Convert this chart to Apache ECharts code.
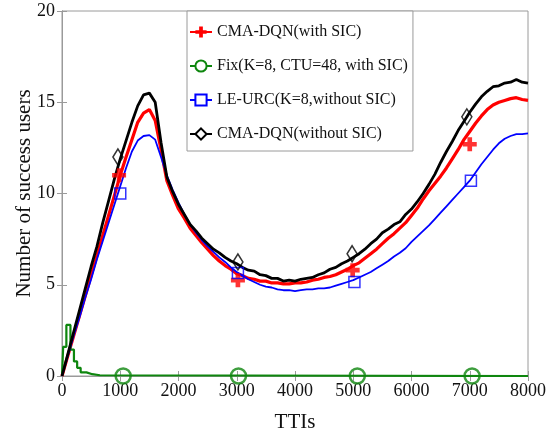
<!DOCTYPE html>
<html>
<head>
<meta charset="utf-8">
<script src="https://cdn.jsdelivr.net/npm/echarts@6/dist/echarts.min.js"></script>
<style>html,body{margin:0;padding:0;background:#fff;}#c{width:560px;height:432px;}</style>
</head>
<body>
<div id="c"></div>
<script>
// x positions (TTIs) for the sampled curves, step 100
var tti = [];
for (var i = 0; i <= 80; i++) tti.push(i * 100);

var names = ['CMA-DQN(with SIC)', 'Fix(K=8, CTU=48, with SIC)', 'LE-URC(K=8,without SIC)', 'CMA-DQN(without SIC)'];

var redV = [0,1.1,2.2,3.3,4.4,5.5,6.6,7.7,8.8,9.9,
  11.0,12.0,12.95,13.9,14.4,14.6,14.0,12.4,10.7,9.9,
  9.15,8.65,8.1,7.7,7.3,6.95,6.6,6.3,6.05,5.85,
  5.6,5.5,5.35,5.3,5.2,5.2,5.1,5.1,5.05,5.05,
  5.1,5.1,5.15,5.25,5.3,5.4,5.45,5.55,5.7,5.85,
  6.05,6.2,6.45,6.7,6.95,7.25,7.55,7.8,8.1,8.4,
  8.8,9.2,9.7,10.15,10.55,10.95,11.4,11.9,12.4,12.95,
  13.4,13.85,14.25,14.6,14.85,15.0,15.1,15.2,15.25,15.15,
  15.1];

var blueV = [0,1.1,2.2,3.2,4.3,5.3,6.4,7.4,8.4,9.4,
  10.4,11.4,12.3,12.9,13.15,13.2,12.95,12.0,11.0,10.2,
  9.5,8.85,8.3,7.85,7.45,7.1,6.8,6.5,6.25,5.95,
  5.7,5.5,5.3,5.15,5.0,4.9,4.85,4.75,4.7,4.7,
  4.65,4.7,4.75,4.75,4.8,4.8,4.85,4.95,5.05,5.15,
  5.25,5.4,5.55,5.7,5.9,6.1,6.3,6.55,6.75,7.0,
  7.35,7.65,7.95,8.25,8.6,8.95,9.3,9.65,10.0,10.35,
  10.7,11.15,11.6,12.0,12.4,12.75,13.0,13.15,13.25,13.25,
  13.3];

var blackV = [0,1.2,2.4,3.6,4.8,6.0,7.1,8.4,9.6,10.8,
  11.9,12.9,13.9,14.8,15.4,15.5,15.0,12.8,10.9,10.1,
  9.4,8.85,8.3,7.95,7.55,7.25,6.95,6.75,6.5,6.3,
  6.15,5.95,5.8,5.75,5.55,5.5,5.35,5.35,5.2,5.25,
  5.2,5.3,5.35,5.4,5.55,5.65,5.85,5.95,6.15,6.3,
  6.5,6.7,6.95,7.25,7.5,7.85,8.05,8.3,8.45,8.85,
  9.15,9.55,10.0,10.5,11.05,11.7,12.3,12.85,13.45,13.95,
  14.45,14.9,15.3,15.6,15.85,15.9,16.05,16.1,16.25,16.1,
  16.05];

// green (Fix) is a step curve: breakpoints and held values
var greenT = [0, 20, 75, 145, 205, 260, 320, 420, 520, 650, 8000];
var greenV = [0, 1.6, 2.8, 1.45, 0.8, 0.45, 0.2, 0.1, 0.04, 0, 0];

// sparse markers
var redMT = [980, 3020, 4990, 7000],   redMV = [11.0, 5.25, 5.8, 12.7];
var greenMT = [1050, 3030, 5070, 7040], greenMV = [0, 0, 0, 0];
var blueMT = [1000, 3020, 5020, 7020], blueMV = [10.0, 5.65, 5.15, 10.7];
var blackMT = [960, 3020, 4980, 6950], blackMV = [12.0, 6.25, 6.7, 14.2];

var xTicks = [0,1000,2000,3000,4000,5000,6000,7000,8000];
var yTicks = [0,5,10,15,20];

function zip(a, b) { return a.map(function (v, i) { return [v, b[i]]; }); }

var RED = '#ff0000', GREEN = '#0e860e', BLUE = '#0000ff', BLACK = '#000000';
var CROSS = 'path://M4,0H8V4H12V8H8V12H4V8H0V4H4Z';
var FONT = '"Liberation Serif", "Times New Roman", serif';

var axisLineStyle = { color: '#9a9a9a', width: 1 };

var option = {
  animation: false,
  backgroundColor: '#fff',
  grid: { left: 62, right: 32, top: 11, bottom: 56, containLabel: false, outerBoundsMode: 'none',
          show: true, borderColor: '#9a9a9a', borderWidth: 1, backgroundColor: 'transparent' },
  xAxis: [{
    type: 'value', min: 0, max: 8000, interval: 1000,
    name: 'TTIs', nameLocation: 'middle', nameGap: 36,
    nameTextStyle: { fontFamily: FONT, fontSize: 21, color: '#111' },
    axisLine: { show: true, lineStyle: axisLineStyle },
    axisTick: { show: true, inside: true, length: 5, lineStyle: axisLineStyle },
    axisLabel: { fontFamily: FONT, fontSize: 18, color: '#111', margin: 6,
      formatter: function (v) { return xTicks.indexOf(v) >= 0 ? String(v) : ''; } },
    splitLine: { show: false }
  }, {
    type: 'value', min: 0, max: 8000, interval: 1000, position: 'top',
    axisLine: { show: true, lineStyle: axisLineStyle },
    axisTick: { show: true, inside: true, length: 5, lineStyle: axisLineStyle },
    axisLabel: { show: false }, splitLine: { show: false }
  }],
  yAxis: [{
    type: 'value', min: 0, max: 20, interval: 5,
    name: 'Number of success users', nameLocation: 'middle', nameGap: 27, nameMoveOverlap: false,
    nameTextStyle: { fontFamily: FONT, fontSize: 21, color: '#111' },
    axisLine: { show: true, lineStyle: axisLineStyle },
    axisTick: { show: true, inside: true, length: 5, lineStyle: axisLineStyle },
    axisLabel: { fontFamily: FONT, fontSize: 18, color: '#111', margin: 7,
      formatter: function (v) { return yTicks.indexOf(v) >= 0 ? String(v) : ''; } },
    splitLine: { show: false }
  }, {
    type: 'value', min: 0, max: 20, interval: 5, position: 'right',
    axisLine: { show: true, lineStyle: axisLineStyle },
    axisTick: { show: true, inside: true, length: 5, lineStyle: axisLineStyle },
    axisLabel: { show: false }, splitLine: { show: false }
  }],
  legend: {
    orient: 'vertical', left: 187, top: 11,
    padding: [11, 5, 7, 2], itemGap: 14, itemWidth: 22, itemHeight: 14,
    backgroundColor: '#fff', borderColor: '#9a9a9a', borderWidth: 1, borderRadius: 0,
    textStyle: { fontFamily: FONT, fontSize: 16, color: '#111', lineHeight: 20 },
    data: names
  },
  series: [
    { name: names[0], type: 'line', data: zip(tti, redV), showSymbol: false, symbol: CROSS, symbolSize: 14,
      lineStyle: { color: RED, width: 3.2 }, itemStyle: { color: RED }, z: 2 },
    { name: names[1], type: 'line', data: zip(greenT, greenV), step: 'end', showSymbol: false, symbol: 'emptyCircle', symbolSize: 14,
      lineStyle: { color: GREEN, width: 2.2 }, itemStyle: { color: GREEN }, z: 3 },
    { name: names[2], type: 'line', data: zip(tti, blueV), showSymbol: false, symbol: 'emptyRect', symbolSize: 12,
      lineStyle: { color: BLUE, width: 1.8 }, itemStyle: { color: BLUE }, z: 4 },
    { name: names[3], type: 'line', data: zip(tti, blackV), showSymbol: false, symbol: 'emptyDiamond', symbolSize: [10, 16],
      lineStyle: { color: BLACK, width: 2.8 }, itemStyle: { color: BLACK }, z: 5 },

    { name: names[0], type: 'scatter', data: zip(redMT, redMV), symbol: CROSS, symbolSize: 14,
      itemStyle: { color: RED }, z: 6 },
    { name: names[1], type: 'scatter', data: zip(greenMT, greenMV), symbol: 'circle', symbolSize: 15,
      itemStyle: { color: 'rgba(255,255,255,0)', borderColor: GREEN, borderWidth: 2.5 }, z: 6 },
    { name: names[2], type: 'scatter', data: zip(blueMT, blueMV), symbol: 'rect', symbolSize: 11,
      itemStyle: { color: 'rgba(255,255,255,0)', borderColor: BLUE, borderWidth: 1.5 }, z: 6 },
    { name: names[3], type: 'scatter', data: zip(blackMT, blackMV), symbol: 'diamond', symbolSize: [10, 16],
      itemStyle: { color: 'rgba(255,255,255,0)', borderColor: BLACK, borderWidth: 1.6 }, z: 6 }
  ]
};

var chart = echarts.init(document.getElementById('c'), null, { renderer: 'canvas' });
chart.setOption(option);
</script>
</body>
</html>
